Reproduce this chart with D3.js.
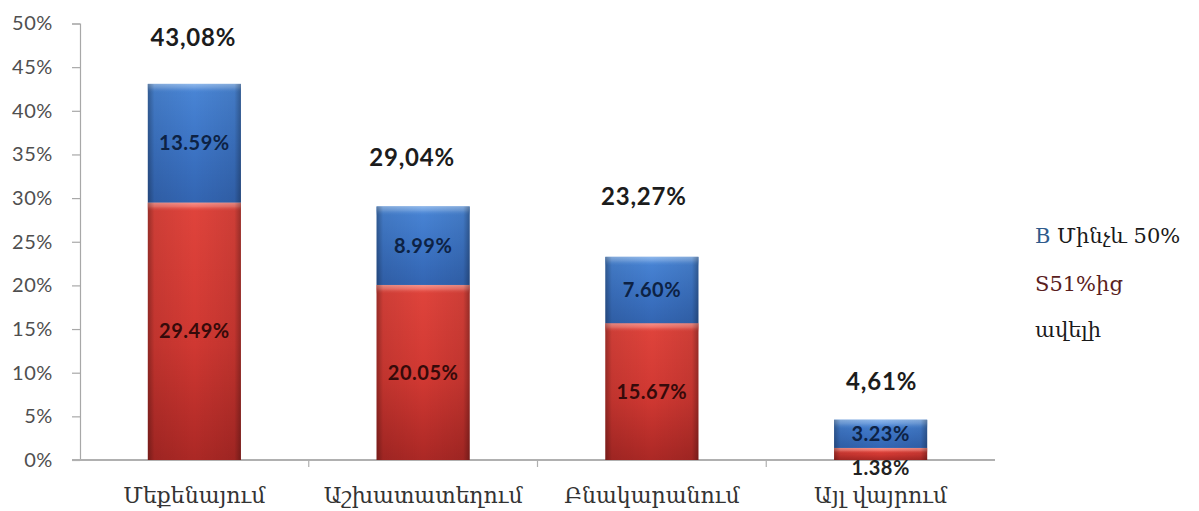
<!DOCTYPE html>
<html>
<head>
<meta charset="utf-8">
<script src="https://cdn.jsdelivr.net/npm/d3@7/dist/d3.min.js"></script>
<style>
  html, body { margin: 0; padding: 0; background: #ffffff; }
  svg { display: block; }
</style>
</head>
<body>
<script>
// ---- data ----
const categories = ["Մեքենայում", "Աշխատատեղում", "Բնակարանում", "Այլ վայրում"];
const over51 = [29.49, 20.05, 15.67, 1.38];   // red, bottom segment
const upTo50 = [13.59, 8.99, 7.60, 3.23];     // blue, top segment
const yTicks = [0, 5, 10, 15, 20, 25, 30, 35, 40, 45, 50];
const legendBlueMark = "B";
const legendBlueText = " Մինչև 50%";
const legendRedText = "S51%ից";
const legendRedText2 = "ավելի";
// level (in chart units) at which each total label sits
const totalLabelLevels = [48.4, 34.7, 30.2, 9.05];

// ---- layout ----
const W = 1199, H = 511;
const svg = d3.select("body").append("svg").attr("width", W).attr("height", H);
svg.append("rect").attr("width", W).attr("height", H).attr("fill", "#fff");

const x = d3.scaleBand().domain(categories).range([80, 995])
  .paddingInner(0.593).paddingOuter(0.2965);
const y = d3.scaleLinear().domain([0, 50]).range([460, 23.5]);

const defs = svg.append("defs");
function vgrad(id, stops) {
  const g = defs.append("linearGradient").attr("id", id)
    .attr("x1", 0).attr("y1", 0).attr("x2", 0).attr("y2", 1);
  stops.forEach(s => g.append("stop").attr("offset", s[0]).attr("stop-color", s[1]).attr("stop-opacity", s[2] == null ? 1 : s[2]));
}
vgrad("gBlue", [[0, "#4a86d6"], [0.5, "#3d75c6"], [1, "#3365b2"]]);
vgrad("gRed", [[0, "#e0443c"], [0.55, "#d03832"], [1, "#ab2825"]]);
vgrad("gHiBlue", [[0, "#8fb8ec"], [0.45, "#6c9ee0"], [1, "#4a86d6", 0]]);
vgrad("gHiRed", [[0, "#f6948c"], [0.45, "#f07068"], [1, "#e0443c", 0]]);
const hg = defs.append("linearGradient").attr("id", "gEdge").attr("x1", 0).attr("x2", 1).attr("y1", 0).attr("y2", 0);
[[0, 0.32], [0.07, 0.08], [0.5, 0], [0.93, 0.08], [1, 0.32]].forEach(s =>
  hg.append("stop").attr("offset", s[0]).attr("stop-color", "#000").attr("stop-opacity", s[1]));

// ---- y axis ----
const yAxis = svg.append("g").attr("transform", "translate(80,0)")
  .call(d3.axisLeft(y).tickValues(yTicks).tickFormat(d => d + "%").tickSize(8).tickPadding(19));
yAxis.select(".domain").attr("stroke", "#a8a8a8").attr("stroke-width", 1.2);
yAxis.selectAll(".tick line").attr("stroke", "#a8a8a8").attr("stroke-width", 1.2);
yAxis.selectAll(".tick text").attr("fill", "#4f4f4f").attr("font-family", "Lato, 'Open Sans', sans-serif")
  .attr("font-size", 20).attr("letter-spacing", 0.6);

// ---- x axis ----
svg.append("line").attr("x1", 72).attr("x2", 995).attr("y1", y(0)).attr("y2", y(0))
  .attr("stroke", "#b0b0b0").attr("stroke-width", 2);
const boundaries = categories.slice(1).map(c => x(c) - x.step() * x.paddingInner() / 2);
svg.selectAll(".xtick").data(boundaries).join("line").attr("class", "xtick")
  .attr("x1", d => d).attr("x2", d => d).attr("y1", y(0)).attr("y2", y(0) + 7)
  .attr("stroke", "#b0b0b0").attr("stroke-width", 1.2);

svg.selectAll(".xlab").data(categories).join("text").attr("class", "xlab")
  .attr("x", d => x(d) + x.bandwidth() / 2).attr("y", 503)
  .attr("text-anchor", "middle").attr("font-family", "'DejaVu Serif', serif")
  .attr("font-size", 22).attr("fill", "#333").text(d => d);

// ---- bars ----
const segs = [];
categories.forEach((c, i) => {
  segs.push({ c, i, y0: 0, y1: over51[i], v: over51[i], kind: "red" });
  segs.push({ c, i, y0: over51[i], y1: over51[i] + upTo50[i], v: upTo50[i], kind: "blue" });
});
const bw = x.bandwidth();
const bars = svg.append("g");
segs.forEach(s => {
  const top = y(s.y1), bot = y(s.y0), h = bot - top;
  const g = bars.append("g");
  g.append("rect").attr("x", x(s.c)).attr("y", top).attr("width", bw).attr("height", h)
    .attr("fill", s.kind === "red" ? "url(#gRed)" : "url(#gBlue)");
  g.append("rect").attr("x", x(s.c)).attr("y", top).attr("width", bw).attr("height", Math.min(9, h * 0.45))
    .attr("fill", s.kind === "red" ? "url(#gHiRed)" : "url(#gHiBlue)");
  g.append("rect").attr("x", x(s.c)).attr("y", top).attr("width", bw).attr("height", h)
    .attr("fill", "url(#gEdge)");
});

// segment labels
segs.forEach(s => {
  const top = y(s.y1), bot = y(s.y0), h = bot - top;
  const small = h < 18;
  svg.append("text")
    .attr("x", x(s.c) + bw / 2)
    .attr("y", small ? bot + 8 : (top + bot) / 2)
    .attr("dy", "0.36em")
    .attr("text-anchor", "middle")
    .attr("font-family", "Lato, 'Open Sans', sans-serif").attr("font-weight", "bold")
    .attr("font-size", 20).attr("letter-spacing", 0.5)
    .attr("fill", small ? "#222" : (s.kind === "red" ? "#360a0a" : "#0d2244"))
    .text(d3.format(".2f")(s.v) + "%");
});

// total labels
const totalDx = [-1, -11, -8, 1];
svg.selectAll(".tot").data(categories).join("text").attr("class", "tot")
  .attr("x", (d, i) => x(d) + bw / 2 + totalDx[i])
  .attr("y", (d, i) => y(totalLabelLevels[i]))
  .attr("dy", "0.36em").attr("text-anchor", "middle")
  .attr("font-family", "Lato, 'Open Sans', sans-serif").attr("font-weight", "bold")
  .attr("font-size", 24).attr("letter-spacing", 0.8).attr("fill", "#1c1c1c")
  .text((d, i) => d3.format(".2f")(over51[i] + upTo50[i]).replace(".", ",") + "%");

// ---- legend ----
const lg = svg.append("g").attr("font-family", "'DejaVu Serif', serif").attr("font-size", 21);
const l1 = lg.append("text").attr("x", 1035).attr("y", 243);
l1.append("tspan").attr("fill", "#2f5b8c").text(legendBlueMark);
l1.append("tspan").attr("fill", "#1a1a1a").text(legendBlueText);
lg.append("text").attr("x", 1035).attr("y", 291).attr("fill", "#5a1e1e").text(legendRedText);
lg.append("text").attr("x", 1035).attr("y", 337).attr("fill", "#1a1a1a").text(legendRedText2);
</script>
</body>
</html>
